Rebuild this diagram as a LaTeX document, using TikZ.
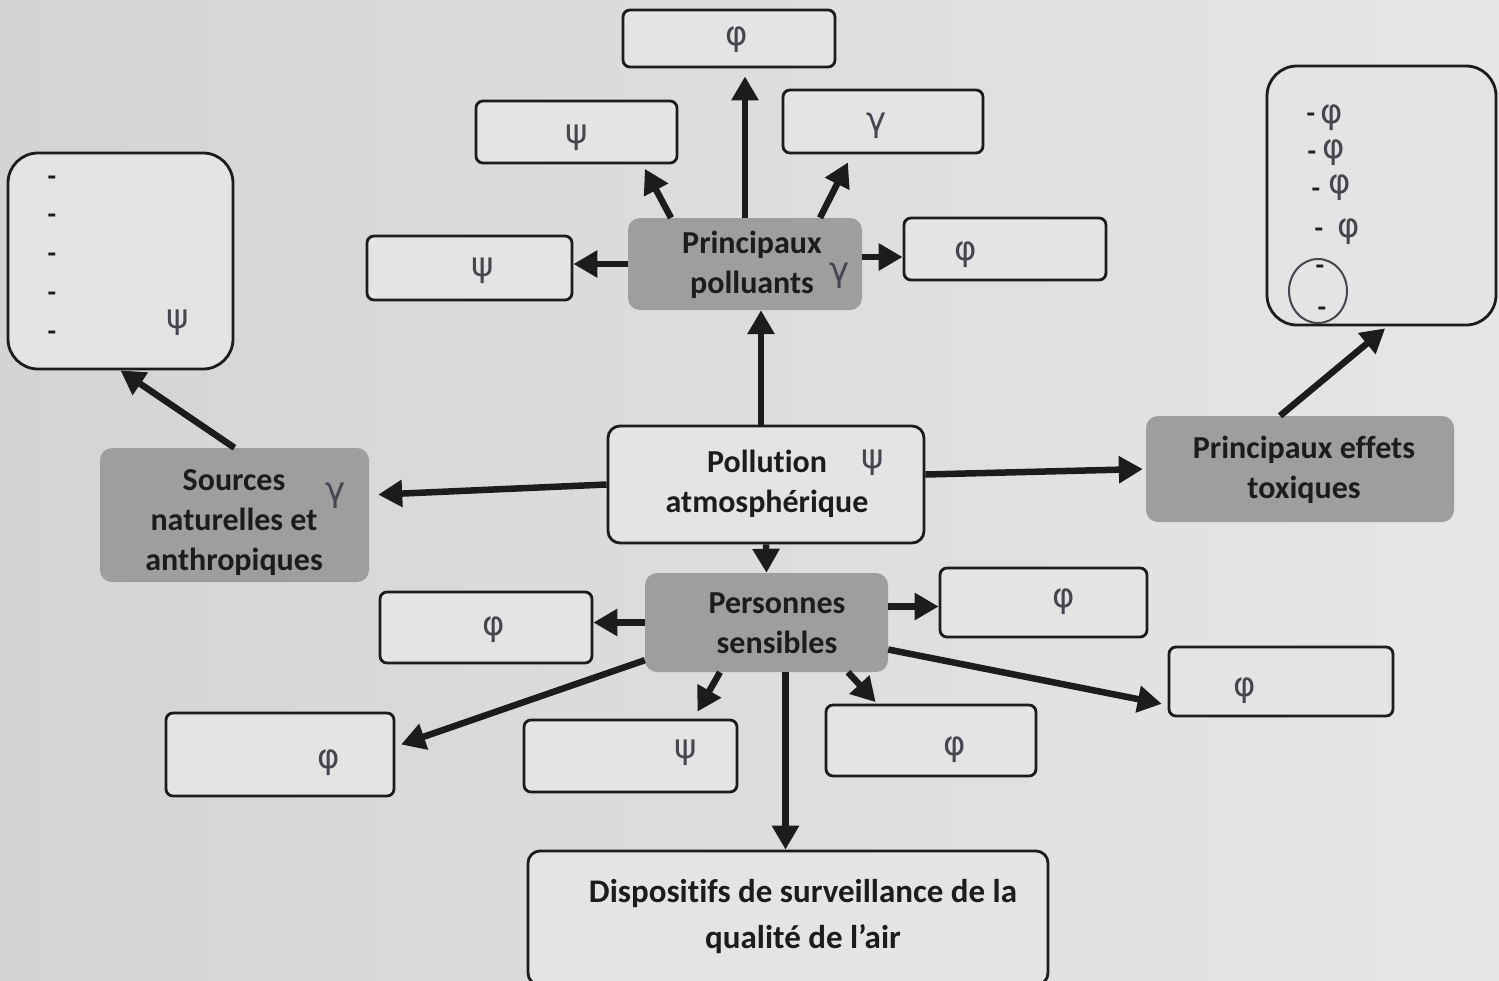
\documentclass[tikz,border=0pt]{standalone}
\usepackage{fontspec}
\setmainfont{Carlito}[Ligatures=NoCommon]
\newfontfamily\hand{DejaVu Sans}
\usetikzlibrary{arrows.meta,calc}
\definecolor{paper}{RGB}{212,212,212}
\definecolor{paperlight}{RGB}{230,230,230}
\definecolor{boxfill}{RGB}{228,228,228}
\definecolor{darkfill}{RGB}{158,158,158}
\definecolor{ink}{RGB}{28,28,28}
\definecolor{pen}{RGB}{70,70,78}
\tikzset{
  box/.style={draw=ink, line width=2.8pt, rounded corners=7pt, fill=boxfill, inner sep=0pt},
  bigbox/.style={draw=ink, line width=2.8pt, rounded corners=30pt, fill=boxfill, inner sep=0pt},
  keybox/.style={draw=ink, line width=2.8pt, rounded corners=12pt, fill=boxfill, align=center,
    text=ink, font=\fontsize{32}{40}\selectfont\bfseries},
  darkbox/.style={fill=darkfill, rounded corners=12pt, align=center, text=ink,
    font=\fontsize{32}{40}\selectfont\bfseries},
  arr/.style={draw=ink, line width=6.5pt, -{Triangle[length=24pt,width=26pt]}},
  handmark/.style={text=pen, font=\hand\fontsize{34}{34}\selectfont, inner sep=0pt},
  dashmark/.style={text=ink, font=\fontsize{28}{28}\selectfont\bfseries, inner sep=0pt},
}
\begin{document}
\begin{tikzpicture}[x=1pt,y=-1pt]
\useasboundingbox (0,0) rectangle (1499,980);
\shade[left color=paper, right color=paperlight] (0,0) rectangle (1499,980);

% empty answer boxes
\node[box, minimum width=212pt, minimum height=57pt] (top) at (729,38.5) {};
\node[box, minimum width=201pt, minimum height=62pt] (ul) at (576.5,132) {};
\node[box, minimum width=200pt, minimum height=63pt] (ur) at (883,121.5) {};
\node[box, minimum width=205pt, minimum height=64pt] (lp) at (469.5,268) {};
\node[box, minimum width=202pt, minimum height=62pt] (rp) at (1005,249) {};
\node[bigbox, minimum width=229pt, minimum height=259pt] (rbig) at (1381.5,195.5) {};
\node[bigbox, minimum width=225pt, minimum height=216pt] (lbig) at (120.5,261) {};
\node[box, minimum width=212pt, minimum height=71pt] (pl) at (486,627.5) {};
\node[box, minimum width=207pt, minimum height=69pt] (pr) at (1043.5,602.5) {};
\node[box, minimum width=224pt, minimum height=69pt] (fr) at (1281,681.5) {};
\node[box, minimum width=228pt, minimum height=83pt] (ll) at (280,754.5) {};
\node[box, minimum width=213pt, minimum height=72pt] (bcl) at (630.5,756) {};
\node[box, minimum width=210pt, minimum height=71pt] (bcr) at (931,740.5) {};

% key nodes
\node[darkbox, minimum width=234pt, minimum height=92pt] (pp) at (745,264) {};
\node[font=\fontsize{32}{40}\selectfont\bfseries, text=ink, align=center] (ppt) at (752,265) {Principaux\\polluants};
\node[keybox, minimum width=316pt, minimum height=117pt] (pa) at (766,484.5) {};
\node[font=\fontsize{32}{40}\selectfont\bfseries, text=ink, align=center] (pat) at (767,484) {Pollution\\atmosphérique};
\node[darkbox, minimum width=269pt, minimum height=134pt] (src) at (234.5,515) {};
\node[font=\fontsize{32}{40}\selectfont\bfseries, text=ink, align=center] (srct) at (234,523) {Sources\\naturelles et\\anthropiques};
\node[darkbox, minimum width=308pt, minimum height=106pt] (eff) at (1300,469) {};
\node[font=\fontsize{32}{40}\selectfont\bfseries, text=ink, align=center] (efft) at (1304,470) {Principaux effets\\toxiques};
\node[darkbox, minimum width=243pt, minimum height=99pt] (ps) at (766.5,622.5) {};
\node[font=\fontsize{32}{40}\selectfont\bfseries, text=ink, align=center] (pst) at (777,623) {Personnes\\sensibles};
\node[keybox, minimum width=520pt, minimum height=134pt] (disp) at (788,918) {};
\node[font=\fontsize{33}{46}\selectfont\bfseries, text=ink, align=center] (dispt) at (803,917) {Dispositifs de surveillance de la\\qualité de l’air};

% connectors
\draw[arr, shorten >=8pt] (pp.north) -- (pp.north |- top.south);
\draw[arr, shorten >=5pt] ([xshift=-74pt]pp.north) -- ([xshift=66pt]ul.south);
\draw[arr, shorten >=9pt] ([xshift=75pt]pp.north) -- ([xshift=-31pt]ur.south);
\draw[arr] (pp.west) -- (pp.west -| lp.east);
\draw[arr] ([yshift=7pt]pp.east) -- ([yshift=7pt]pp.east -| rp.west);
\draw[arr] ([xshift=-5pt]pa.north) -- ([xshift=-5pt]pa.north |- pp.south);
\draw[arr, shorten >=9pt] (pa.west) -- ([yshift=20pt]src.east);
\draw[arr, shorten >=3pt] ([yshift=10pt]pa.east) -- (eff.west);
\draw[arr, shorten >=3pt] ([xshift=-20pt]eff.north) -- ([xshift=6pt]rbig.south);
\draw[arr] (src.north) -- (lbig.south);
\draw[arr] (pa.south) -- (ps.north);
\draw[arr] (ps.west) -- (ps.west -| pl.east);
\draw[arr] ([yshift=16pt]ps.east) -- ([yshift=16pt]ps.east -| pr.west);
\draw[arr, shorten >=6pt] ([yshift=-27pt]ps.east) -- ([yshift=-23.5pt]fr.west);
\draw[arr, shorten >=6pt] ([yshift=12pt]ps.south west) -- ([yshift=8pt]ll.east);
\draw[arr, shorten >=8pt] ([xshift=-46.5pt]ps.south) -- ([xshift=63pt]bcl.north);
\draw[arr, shorten >=2pt] ([xshift=81.5pt]ps.south) -- ([xshift=-54pt]bcr.north);
\draw[arr] ([xshift=19pt]ps.south) -- ([xshift=19pt]ps.south |- disp.north);

% dashes in the list boxes
\foreach \yy/\nm in {181/la,219/lb,258/lc,297/ld,336/le}
  \node[dashmark] (\nm) at (52,\yy) {-};
\foreach \yy/\xx/\nm in {118/1311/ra,156/1312/rb,193/1316/rc,233/1319/rd,270/1320/re,312/1322/rf}
  \node[dashmark] (\nm) at (\xx,\yy) {-};
\draw[pen, line width=2pt] (1318,291) ellipse [x radius=29pt, y radius=32pt];

% handwritten marks
\node[handmark] (m1) at (737,40) {φ};
\node[handmark] (m2) at (577,138) {ψ};
\node[handmark] (m3) at (877,126) {γ};
\node[handmark] (m4) at (483,271) {ψ};
\node[handmark] (m5) at (966,255) {φ};
\node[handmark] (m6) at (840,276) {γ};
\node[handmark] (m7) at (873,463) {ψ};
\node[handmark] (m8) at (336,496) {γ};
\node[handmark] (m9) at (494,630) {φ};
\node[handmark] (m10) at (1064,602) {φ};
\node[handmark] (m11) at (1245,691) {φ};
\node[handmark] (m12) at (329,763) {φ};
\node[handmark] (m13) at (686,753) {ψ};
\node[handmark] (m14) at (955,750) {φ};
\node[handmark] (m15) at (178,323) {ψ};
\node[handmark] (m16) at (1332,118) {φ};
\node[handmark] (m17) at (1334,153) {φ};
\node[handmark] (m18) at (1340,188) {φ};
\node[handmark] (m19) at (1349,232) {φ};
\end{tikzpicture}
\end{document}
